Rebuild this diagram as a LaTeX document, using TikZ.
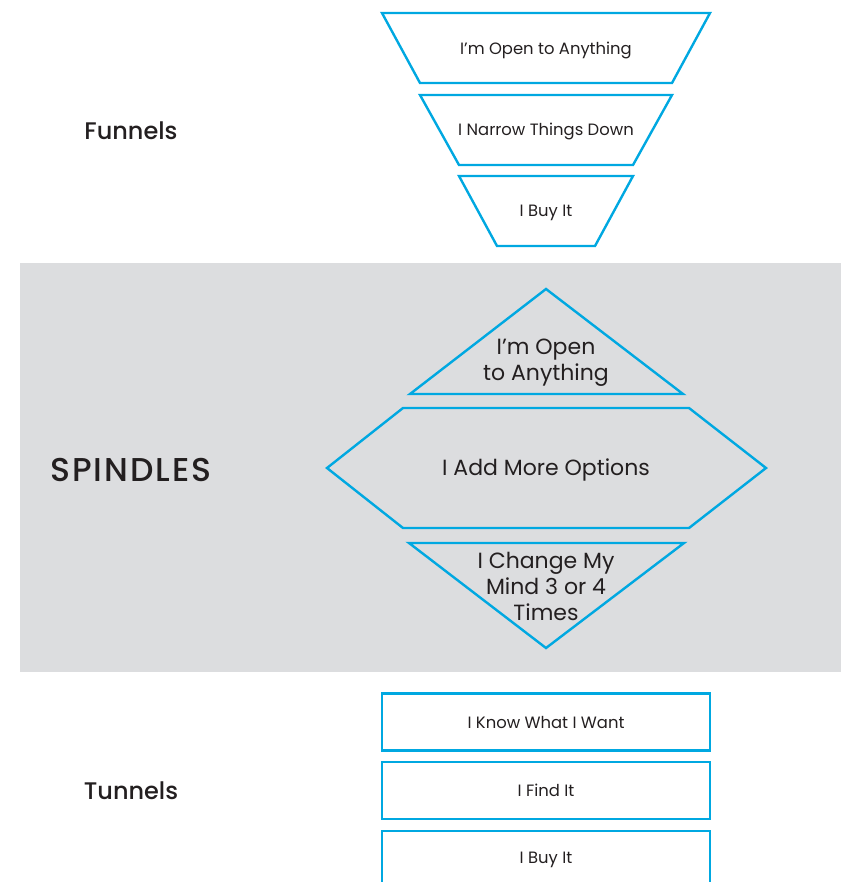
\documentclass[tikz,border=0pt]{standalone}
\usepackage{fontspec}
\setmainfont{Poppins}
\newfontfamily\headfont{Poppins Medium}
\newfontfamily\spinfont[LetterSpace=6]{Poppins Medium}
\definecolor{spblue}{HTML}{00A8E1}
\definecolor{spgrey}{HTML}{DCDDDF}
\definecolor{inkgrey}{HTML}{231F20}
\tikzset{
  stage/.style={draw=spblue,line width=2.4pt,line join=miter},
  smalltxt/.style={text=inkgrey,font=\fontsize{16.4}{19}\selectfont},
  bigtxt/.style={text=inkgrey,font=\fontsize{22}{26}\selectfont,align=center},
  heading/.style={text=inkgrey,font=\headfont\fontsize{24}{28}\selectfont},
  tunnelbox/.style={stage,rectangle,smalltxt,minimum width=328pt,minimum height=57pt,inner sep=0pt}
}
\begin{document}
\begin{tikzpicture}[x=1pt,y=-1pt]
  \useasboundingbox (0,0) rectangle (844,882);
  % band behind the spindles
  \fill[spgrey] (20,263) rectangle (841,672);
  % funnels
  \draw[stage] (382,13) -- (710,13) -- (672,83) -- (420,83) -- cycle;
  \draw[stage] (420,95) -- (672,95) -- (633,165) -- (459,165) -- cycle;
  \draw[stage] (459,176) -- (633,176) -- (595,246) -- (497,246) -- cycle;
  \node[smalltxt] (fopen) at (546,50) {I’m Open to Anything};
  \node[smalltxt] (fnarrow) at (546,131) {I Narrow Things Down};
  \node[smalltxt] (fbuy) at (546,213) {I Buy It};
  \node[heading] (funnels) at (131,131) {Funnels};
  % spindles
  \draw[stage] (546,289) -- (683,394) -- (410,394) -- cycle;
  \draw[stage] (403,408) -- (689,408) -- (766,468) -- (689,528) -- (403,528) -- (327,468) -- cycle;
  \draw[stage] (409,543) -- (684,543) -- (546,648) -- cycle;
  \node[bigtxt] (sopen) at (546,363) {I’m Open\\to Anything};
  \node[bigtxt] (sadd) at (546,470) {I Add More Options};
  \node[bigtxt] (schange) at (546,586) {I Change My\\Mind 3 or 4\\Times};
  \node[heading,font=\spinfont\fontsize{33}{38}\selectfont] (spindles) at (131,470) {SPINDLES};
  % tunnels
  \node[tunnelbox] (tknow) at (546,722) {I Know What I Want};
  \node[tunnelbox] (tfind) at (546,790.5) {I Find It};
  \node[tunnelbox] (tbuy) at (546,859.5) {I Buy It};
  \node[heading] (tunnels) at (131,791) {Tunnels};
\end{tikzpicture}
\end{document}
